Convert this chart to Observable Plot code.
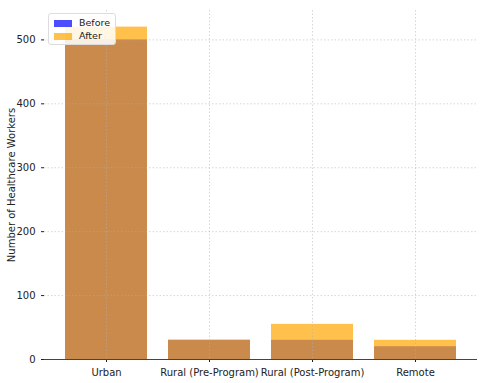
<!DOCTYPE html>
<html><head><meta charset="utf-8">
<script src="https://cdn.jsdelivr.net/npm/d3@7"></script>
<script src="https://cdn.jsdelivr.net/npm/@observablehq/plot@0.6"></script>
<style>
body{margin:0;background:#fff;font-family:"DejaVu Sans",sans-serif;}
#wrap{position:relative;width:486px;height:383px;}
.legend{position:absolute;left:48px;top:13px;background:rgba(255,255,255,0.85);border:1px solid #ddd;border-radius:3px;padding:2px 5px;font-size:9.5px;color:#222;line-height:13px;}
.legend .sw{display:inline-block;width:18px;height:7px;margin-right:7px;vertical-align:middle;}
</style></head>
<body><div id="wrap"></div>
<script>
const categories = ["Urban", "Rural (Pre-Program)", "Rural (Post-Program)", "Remote"];
const before = [500, 30, 30, 20];
const after = [520, 30, 55, 30];
const yTicks = [0, 100, 200, 300, 400, 500];

const beforeData = categories.map((c, i) => ({cat: c, v: before[i]}));
const afterData = categories.map((c, i) => ({cat: c, v: after[i]}));

const chart = Plot.plot({
  width: 486, height: 383,
  marginLeft: 44, marginRight: 9, marginTop: 10, marginBottom: 24,
  style: {fontFamily: "DejaVu Sans, sans-serif", fontSize: "10px", color: "#222", background: "#fff"},
  x: {domain: categories, padding: 0.2, label: null, tickSize: 3},
  y: {domain: [0, 546], ticks: yTicks, label: "Number of Healthcare Workers", labelAnchor: "center", labelArrow: "none", labelOffset: 37, tickSize: 3},
  marks: [
    Plot.barY(beforeData, {x: "cat", y: "v", fill: "#0000ff", fillOpacity: 0.7}),
    Plot.barY(afterData, {x: "cat", y: "v", fill: "orange", fillOpacity: 0.7}),
    Plot.gridY(yTicks, {stroke: "#b0b0b0", strokeOpacity: 0.5, strokeDasharray: "1.5,2"}),
    Plot.gridX(categories, {stroke: "#b0b0b0", strokeOpacity: 0.5, strokeDasharray: "1.5,2"}),
    Plot.ruleX([0], {frameAnchor: "left", stroke: "#444"}),
    Plot.ruleY([0], {stroke: "#444"})
  ]
});
const wrap = document.getElementById("wrap");
wrap.appendChild(chart);
const leg = document.createElement("div");
leg.className = "legend";
leg.innerHTML = '<div><span class="sw" style="background:rgba(0,0,255,0.7)"></span>Before</div><div><span class="sw" style="background:rgba(255,165,0,0.7)"></span>After</div>';
wrap.appendChild(leg);
</script></body></html>
